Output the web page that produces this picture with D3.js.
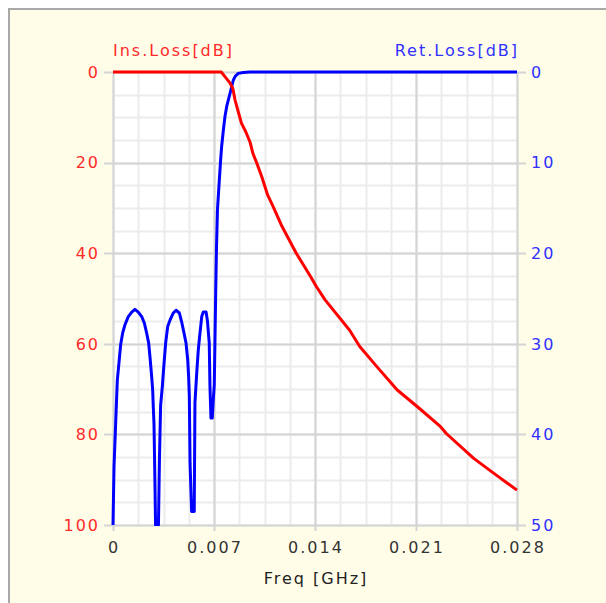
<!DOCTYPE html>
<html><head><meta charset="utf-8">
<script src="https://cdn.jsdelivr.net/npm/d3@7/dist/d3.min.js"></script>
<style>
html,body{margin:0;padding:0;background:#fff;}
svg{display:block;}
text{font-family:"DejaVu Sans",Verdana,sans-serif;font-size:16px;letter-spacing:2px;}
</style></head>
<body>
<svg id="chart" width="606" height="603"></svg>
<script>
// ---- data ----
const xTicks = [0, 0.007, 0.014, 0.021, 0.028];
const xTickLabels = ["0", "0.007", "0.014", "0.021", "0.028"];
const leftTicks = [0, 20, 40, 60, 80, 100];
const rightTicks = [0, 10, 20, 30, 40, 50];
const xTitle = "Freq [GHz]";
const leftTitle = "Ins.Loss[dB]";
const rightTitle = "Ret.Loss[dB]";

// Insertion loss [dB] vs frequency [GHz]
const insFreq = [0, 0.0075, 0.0078, 0.0081, 0.0083, 0.00846, 0.0087, 0.0089, 0.0092, 0.0095, 0.0097, 0.0100, 0.0103, 0.0107, 0.0111, 0.0117, 0.0127, 0.0137, 0.0141, 0.0147, 0.0164, 0.0171, 0.0183, 0.0197, 0.0211, 0.0227, 0.0231, 0.0250, 0.0264, 0.0280];
const insLoss = [0, 0, 1.2, 2.4, 3.6, 6.2, 9.0, 11.3, 13.2, 15.5, 18.0, 20.4, 23.0, 27.0, 29.7, 34.0, 40.0, 45.2, 47.4, 50.3, 57.0, 60.6, 65.1, 70.2, 73.9, 78.3, 79.8, 85.3, 88.6, 92.3];

// Return loss [dB] vs frequency [GHz]
const retFreq = [0, 0.00007, 0.00021, 0.0003, 0.00042, 0.00053, 0.00067, 0.00083, 0.00106, 0.0013, 0.00152, 0.00175, 0.00199, 0.00217, 0.00233, 0.00247, 0.00256, 0.00268, 0.00275, 0.00279, 0.00284, 0.00288, 0.00295, 0.00315, 0.00322, 0.0033, 0.00342, 0.00353, 0.00365, 0.00379, 0.00395, 0.00418, 0.00437, 0.0046, 0.00476, 0.00492, 0.00506, 0.00518, 0.00524, 0.00529, 0.00534, 0.00545, 0.00563, 0.00568, 0.0058, 0.00591, 0.00603, 0.00615, 0.00626, 0.00645, 0.00654, 0.00667, 0.00672, 0.00679, 0.00688, 0.00695, 0.00702, 0.00712, 0.00717, 0.00724, 0.00737, 0.00746, 0.00753, 0.00765, 0.00776, 0.00788, 0.00799, 0.00811, 0.00823, 0.00834, 0.00846, 0.00868, 0.00903, 0.0095, 0.028];
const retLoss = [50, 43.6, 37.7, 34.0, 32.0, 30.1, 28.8, 27.9, 27.0, 26.5, 26.2, 26.5, 27.0, 27.7, 28.8, 29.9, 31.4, 33.6, 35.1, 36.9, 38.8, 42.6, 50, 50, 42.6, 36.8, 34.7, 32.3, 29.9, 28.1, 27.4, 26.6, 26.3, 26.6, 27.6, 28.8, 29.9, 31.8, 33.6, 35.8, 43.2, 48.5, 48.5, 36.5, 33.3, 30.7, 28.8, 27.0, 26.5, 26.5, 27.4, 29.9, 34.7, 38.2, 38.2, 36.2, 34.5, 24.1, 19.6, 15.2, 11.9, 9.7, 8.2, 6.4, 4.9, 3.8, 3.1, 2.35, 1.6, 0.9, 0.5, 0.15, 0.05, 0, 0];

// ---- layout ----
const W = 606, H = 603;
const plot = {left: 113, right: 517, top: 72, bottom: 525};
const svg = d3.select("#chart");

// frame
svg.append("rect").attr("x", 9).attr("y", 9).attr("width", W).attr("height", H)
  .attr("fill", "#fffde8").attr("stroke", "#a8a8a8").attr("stroke-width", 2);

const x = d3.scaleLinear().domain([0, 0.028]).range([plot.left, plot.right]);
const yL = d3.scaleLinear().domain([0, 100]).range([plot.top, plot.bottom]);
const yR = d3.scaleLinear().domain([0, 50]).range([plot.top, plot.bottom]);

svg.append("rect").attr("x", plot.left).attr("y", plot.top)
  .attr("width", plot.right - plot.left).attr("height", plot.bottom - plot.top)
  .attr("fill", "#fff");

// minor grid
const xMinor = d3.range(0, 0.028 + 1e-9, 0.00175);
const yMinor = d3.range(0, 100 + 1e-9, 5);
const grid = svg.append("g");
grid.selectAll(".vx").data(xMinor).join("line")
  .attr("x1", d => Math.round(x(d)) + 0.5).attr("x2", d => Math.round(x(d)) + 0.5)
  .attr("y1", plot.top).attr("y2", plot.bottom)
  .attr("stroke", "#ececec").attr("stroke-width", 2);
grid.selectAll(".hy").data(yMinor).join("line")
  .attr("y1", d => Math.round(yL(d)) + 0.5).attr("y2", d => Math.round(yL(d)) + 0.5)
  .attr("x1", plot.left).attr("x2", plot.right)
  .attr("stroke", "#ececec").attr("stroke-width", 2);
// major grid
grid.selectAll(".vxM").data(xTicks).join("line")
  .attr("x1", d => Math.round(x(d)) + 0.5).attr("x2", d => Math.round(x(d)) + 0.5)
  .attr("y1", plot.top).attr("y2", plot.bottom + 6)
  .attr("stroke", "#d4d4d4").attr("stroke-width", 2);
grid.selectAll(".hyM").data(leftTicks).join("line")
  .attr("y1", d => Math.round(yL(d)) + 0.5).attr("y2", d => Math.round(yL(d)) + 0.5)
  .attr("x1", plot.left - 9).attr("x2", plot.right + 9)
  .attr("stroke", "#d4d4d4").attr("stroke-width", 2);

// clip
svg.append("clipPath").attr("id", "clip").append("rect")
  .attr("x", plot.left - 2).attr("y", plot.top - 2)
  .attr("width", plot.right - plot.left + 4).attr("height", plot.bottom - plot.top + 3);

const insData = insFreq.map((f, i) => [f, insLoss[i]]);
const retData = retFreq.map((f, i) => [f, retLoss[i]]);

svg.append("path").datum(retData)
  .attr("clip-path", "url(#clip)")
  .attr("d", d3.line().x(d => x(d[0])).y(d => yR(d[1])))
  .attr("fill", "none").attr("stroke", "#0000ff").attr("stroke-width", 3)
  .attr("stroke-linejoin", "round");
svg.append("path").datum(insData)
  .attr("clip-path", "url(#clip)")
  .attr("d", d3.line().x(d => x(d[0])).y(d => yL(d[1])))
  .attr("fill", "none").attr("stroke", "#ff0000").attr("stroke-width", 3)
  .attr("stroke-linejoin", "round");

// axes labels
svg.append("g").selectAll("text").data(leftTicks).join("text")
  .attr("x", 100).attr("y", d => yL(d)).attr("dy", "0.36em")
  .attr("text-anchor", "end").attr("fill", "#ff2a2a").text(d => d);
svg.append("g").selectAll("text").data(rightTicks).join("text")
  .attr("x", 531).attr("y", d => yR(d)).attr("dy", "0.36em")
  .attr("text-anchor", "start").attr("fill", "#3030ff").text(d => d);
svg.append("g").selectAll("text").data(xTicks).join("text")
  .attr("x", d => x(d) + 1).attr("y", 553)
  .attr("text-anchor", "middle").attr("fill", "#333").text((d, i) => xTickLabels[i]);

svg.append("text").attr("x", (plot.left + plot.right) / 2 + 1).attr("y", 584)
  .attr("text-anchor", "middle").attr("fill", "#222").text(xTitle);
svg.append("text").attr("x", plot.left).attr("y", 56)
  .attr("text-anchor", "start").attr("fill", "#ff2a2a").text(leftTitle);
svg.append("text").attr("x", plot.right + 2).attr("y", 56)
  .attr("text-anchor", "end").attr("fill", "#3030ff").text(rightTitle);
</script>
</body></html>
